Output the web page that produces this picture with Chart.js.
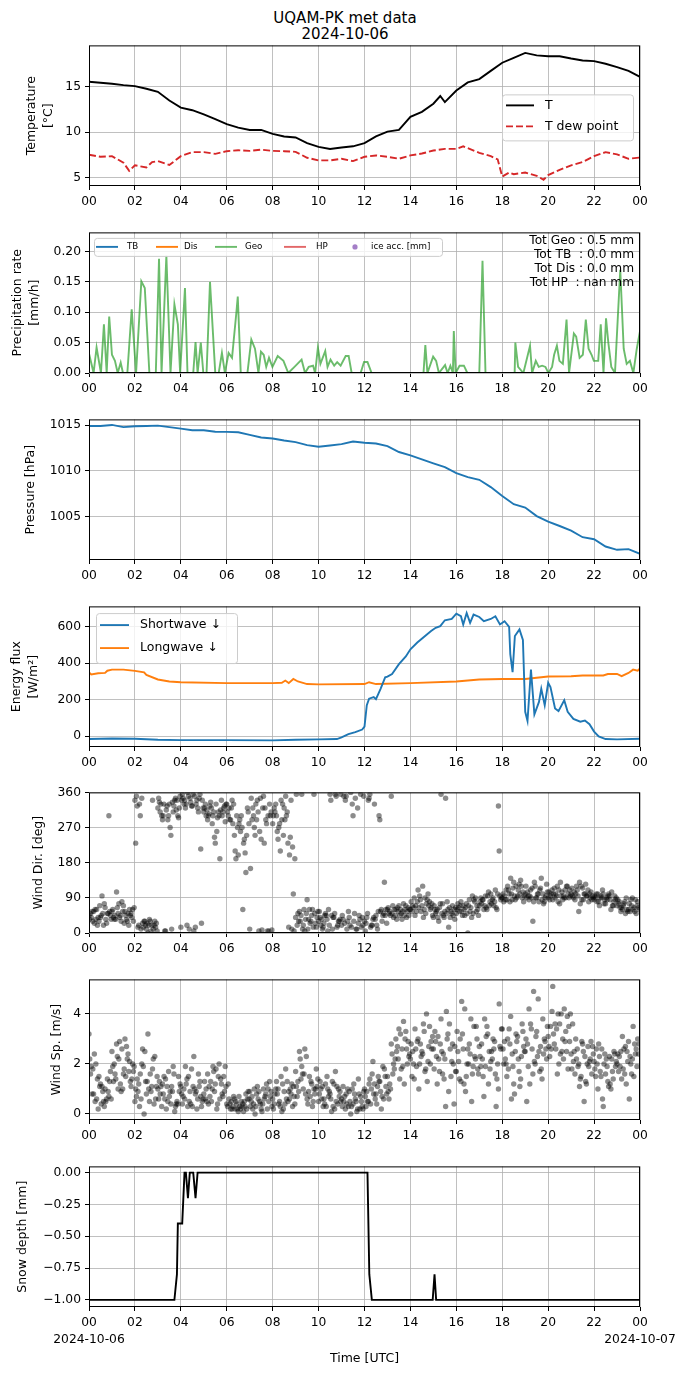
<!DOCTYPE html>
<html>
<head>
<meta charset="utf-8">
<script src="https://cdn.jsdelivr.net/npm/chart.js@4.4.1/dist/chart.umd.min.js"></script>
<style>
  body { margin: 0; background: #fff; width: 690px; height: 1377px; position: relative; overflow: hidden; font-family: 'DejaVu Sans', sans-serif; }
  canvas { position: absolute; left: 0; }
  #title { position: absolute; top: 10px; left: 0; width: 690px; text-align: center; font-size: 15px; line-height: 16px; color: #000; }
</style>
</head>
<body>
<div id="title">UQAM-PK met data<br>2024-10-06</div>
<canvas id="cTemp" width="690" height="178" style="top:34px"></canvas>
<canvas id="cPrecip" width="690" height="178" style="top:221px"></canvas>
<canvas id="cPres" width="690" height="178" style="top:408px"></canvas>
<canvas id="cFlux" width="690" height="178" style="top:595px"></canvas>
<canvas id="cDir" width="690" height="178" style="top:781px"></canvas>
<canvas id="cSpd" width="690" height="178" style="top:968px"></canvas>
<canvas id="cSnow" width="690" height="222" style="top:1155px"></canvas>
<script>
// ---- data (hours UTC on 2024-10-06) ----
const hourTicks = [0, 2, 4, 6, 8, 10, 12, 14, 16, 18, 20, 22, 24];
const hourLabels = ['00', '02', '04', '06', '08', '10', '12', '14', '16', '18', '20', '22', '00'];
const dateLabels = ['2024-10-06', '2024-10-07'];

const tempHours = [0,0.5,1,1.5,2,2.5,3,3.5,4,4.5,5,5.5,6,6.5,7,7.5,8,8.5,9,9.5,10,10.5,11,11.5,12,12.5,13,13.5,14,14.5,15,15.3,15.5,16,16.5,17,17.5,18,18.5,19,19.5,20,20.5,21,21.5,22,22.5,23,23.5,24];
const temp = [15.58,15.47,15.36,15.2,15.1,14.8,14.46,13.5,12.72,12.43,11.96,11.45,10.9,10.5,10.25,10.25,9.82,9.53,9.42,8.8,8.37,8.15,8.3,8.44,8.8,9.53,10.07,10.25,11.7,12.25,13.15,14.0,13.33,14.6,15.5,15.87,16.78,17.68,18.22,18.77,18.5,18.4,18.4,18.15,17.93,17.86,17.57,17.2,16.78,16.12];
const dewHours = [0,0.5,1,1.5,1.75,2,2.5,2.75,3,3.5,4,4.5,5,5.5,6,6.5,7,7.5,8,8.5,9,9.5,10,10.5,11,11.5,12,12.5,13,13.5,14,14.5,15,15.5,16,16.3,17,17.5,17.8,18,18.3,18.5,19,19.5,19.8,20,20.5,21,21.5,22,22.5,23,23.5,24];
const dewPoint = [7.5,7.28,7.35,6.63,5.72,6.34,6.1,6.7,6.8,6.37,7.35,7.8,7.8,7.6,7.9,8.0,7.93,8.07,7.93,7.9,7.83,7.17,6.88,6.88,7.06,6.8,7.28,7.43,7.28,7.06,7.43,7.64,7.97,8.15,8.15,8.44,7.72,7.35,7.0,5.1,5.54,5.36,5.54,5.18,4.74,5.25,5.83,6.34,6.7,7.35,7.79,7.54,7.06,7.2];
const tempTicks = [5, 10, 15];

const geoHours = [0,0.2,0.33,0.52,0.65,0.77,0.88,1.0,1.13,1.25,1.38,1.48,1.67,1.86,2.05,2.28,2.43,2.63,2.91,3.05,3.16,3.37,3.55,3.72,3.87,3.97,4.18,4.29,4.54,4.64,4.73,4.87,4.98,5.12,5.27,5.5,5.65,5.79,5.92,6.08,6.23,6.42,6.48,6.61,6.9,7.07,7.23,7.38,7.49,7.61,7.72,7.84,7.99,8.22,8.47,8.68,8.95,9.26,9.41,9.57,9.76,9.85,9.97,10.08,10.29,10.39,10.52,10.68,10.81,10.96,11.18,11.31,11.44,11.83,11.98,12.13,12.31,14.57,14.65,14.74,14.99,15.12,15.24,15.51,15.62,15.74,15.85,15.89,15.97,16.14,16.33,16.48,17.0,17.14,17.27,18.54,18.57,18.69,18.92,19.21,19.3,19.46,19.59,19.74,19.88,20.01,20.17,20.26,20.38,20.49,20.64,20.8,20.91,21.12,21.22,21.37,21.51,21.64,21.76,21.89,21.99,22.18,22.29,22.41,22.52,22.62,22.75,22.91,23.14,23.29,23.42,23.56,23.71,23.86,24.0];
const geoRate = [0.032,0,0.042,0,0.08,0,0.093,0.03,0.02,0,0.017,0,0,0.105,0,0.151,0.14,0,0,0.188,0,0.193,0,0.113,0.08,0,0.14,0,0,0.051,0,0.05,0,0,0.15,0,0,0.033,0,0.033,0.025,0.1,0.126,0,0,0.055,0.04,0,0.035,0.03,0.01,0.025,0.01,0.028,0.02,0,0.01,0.022,0,0.01,0.012,0,0.042,0.015,0.036,0.01,0.022,0.012,0.018,0.012,0.028,0.028,0,0,0.018,0.018,0,0,0.046,0,0.027,0.02,0,0.013,0,0.012,0,0.069,0,0.012,0.012,0,0,0.185,0,0,0.05,0.01,0,0.045,0,0.02,0.01,0.012,0.01,0,0.01,0.03,0.045,0.02,0.015,0.088,0,0.065,0.06,0.025,0.03,0.088,0.04,0.03,0.02,0.02,0.08,0,0.09,0.05,0.01,0,0.17,0.04,0.015,0.02,0,0.04,0.069];
const zeroHours = [0, 24];
const zeroRate = [0, 0];
const precipTicks = [0, 0.05, 0.1, 0.15, 0.2];
const precipTotals = ['Tot Geo : 0.5 mm', 'Tot TB  : 0.0 mm', 'Tot Dis : 0.0 mm', 'Tot HP  : nan mm'];

const halfHours = [0,0.5,1,1.5,2,2.5,3,3.5,4,4.5,5,5.5,6,6.5,7,7.5,8,8.5,9,9.5,10,10.5,11,11.5,12,12.5,13,13.5,14,14.5,15,15.5,16,16.5,17,17.5,18,18.5,19,19.5,20,20.5,21,21.5,22,22.5,23,23.5,24];
const pressure = [1014.93,1014.93,1015.04,1014.8,1014.9,1014.93,1014.96,1014.8,1014.64,1014.46,1014.46,1014.3,1014.28,1014.24,1013.95,1013.66,1013.55,1013.33,1013.15,1012.83,1012.64,1012.79,1012.93,1013.22,1013.08,1013.0,1012.72,1012.07,1011.7,1011.27,1010.83,1010.4,1009.75,1009.31,1009.02,1008.22,1007.25,1006.34,1005.98,1005.04,1004.42,1003.95,1003.44,1002.72,1002.5,1001.7,1001.34,1001.41,1000.9];
const pressureTicks = [1005, 1010, 1015];

const swHours = [0,1,2,3,4,6,8,9,10,10.8,11,11.3,11.6,11.9,12,12.1,12.2,12.4,12.5,12.7,12.9,13,13.2,13.5,13.8,14,14.3,14.6,14.9,15.1,15.3,15.5,15.8,16,16.2,16.3,16.45,16.6,16.75,17,17.2,17.5,17.7,17.9,18.1,18.3,18.35,18.45,18.55,18.75,18.9,19,19.1,19.25,19.4,19.6,19.7,19.85,20,20.1,20.3,20.45,20.7,20.85,21.1,21.4,21.6,21.8,22,22.2,22.5,23,24];
const shortwave = [-16,-13,-14,-20,-22,-22,-23,-20,-18,-16,-7,11,22,36,52,169,205,214,202,259,322,326,340,394,436,475,512,544,575,593,602,634,641,670,656,611,674,620,665,652,629,641,656,611,629,598,449,350,548,584,526,133,83,364,119,187,259,169,292,268,151,137,196,133,94,79,85,65,25,-2,-16,-18,-14];
const lwHours = [0,0.1,0.4,0.7,0.8,1,1.5,2,2.4,2.5,3,3.5,4,6,8,8.4,8.55,8.7,8.9,9.1,9.5,10,12,12.2,12.5,14,16,17,18,19,20,21,21.5,22.4,22.6,23,23.2,23.5,23.7,23.9,24];
const longwave = [349,337,344,346,358,364,364,357,349,335,310,299,295,290,290,292,304,290,313,299,285,283,285,295,285,290,299,310,313,313,326,328,332,332,340,340,328,346,364,358,371];
const fluxTicks = [0, 200, 400, 600];

// wind: five interleaved sample sets, 6 readings per hour each (one row per hour)
const windDirA = [
  45,30,60,40,75,50, 55,35,40,70,30,50, 340,20,25,10,30,20, 320,300,5,330,310,340,
  15,340,350,325,330,355, 310,290,320,230,300,310, 330,290,250,200,270,155, 10,300,340,240,320,5,
  280,300,210,320,230,10, 40,55,20,85,30,50, 30,10,45,355,40,20, 20,340,40,300,10,355,
  30,340,20,45,290,50, 60,350,45,70,55,40, 60,90,110,70,50,80, 40,60,355,55,15,70,
  50,70,60,0,40,90, 70,85,60,100,80,325, 90,110,80,130,95,120, 100,85,30,90,115,80,
  90,110,100,75,95,120, 100,85,55,115,95,90, 85,100,90,75,95,70, 70,55,80,60,90,50];
const windDirB = [
  35,55,20,45,65,300, 60,105,45,25,50,40, 230,330,15,25,5,30, 345,290,315,270,325,300,
  340,320,10,355,340,215, 320,300,280,330,190,320, 310,320,210,280,60,250, 165,270,310,8,290,330,
  300,260,340,290,15,220, 355,30,60,10,45,25, 55,15,35,340,50,30, 45,350,20,30,320,15,
  5,345,35,20,55,130, 65,50,60,45,75,55, 80,45,65,120,75,60, 70,40,50,345,65,45,
  60,80,45,70,95,55, 80,60,95,75,110,210, 100,85,140,95,110,90, 120,95,80,100,140,90,
  105,85,95,130,90,100, 115,100,130,85,95,105, 95,80,110,90,85,80, 85,65,50,75,60,70];
const windDirC = [
  50,25,40,95,35,55, 40,65,30,55,20,60, 350,300,30,0,20,15, 335,300,325,250,340,295,
  355,330,345,5,320,25, 330,305,300,260,315,325, 300,340,190,290,230,320, 345,250,5,320,280,300,
  320,240,290,350,200,100, 20,45,5,35,60,15, 40,25,5,45,355,30, 35,10,360,50,25,40,
  25,355,40,10,60,45, 50,70,35,60,45,65, 55,70,95,40,85,65, 60,30,75,50,40,60,
  75,55,65,85,50,70, 90,70,105,85,65,95, 80,120,100,85,125,105, 90,110,130,100,85,95,
  85,100,120,95,110,90, 95,120,75,100,110,85, 90,70,100,85,60,95, 75,60,90,55,65,80];
const windDirD = [
  40,60,30,50,25,45, 35,50,80,45,60,30, 325,10,30,20,340,25, 310,330,290,10,345,320,
  345,20,335,350,310,340, 300,325,310,295,340,285, 320,280,300,260,240,310, 290,330,260,350,5,310,
  310,270,330,300,245,5, 50,355,35,60,15,40, 20,45,60,10,350,35, 350,30,15,345,45,20,
  40,15,330,55,30,60, 55,40,65,50,60,45, 70,55,85,60,100,75, 50,65,45,80,55,35,
  65,45,75,55,85,60, 75,95,70,90,60,85, 95,110,85,120,100,80, 105,90,120,80,100,125,
  95,115,80,105,90,110, 90,110,120,100,80,95, 100,90,75,95,105,85, 80,70,60,85,55,65];
const windDirE = [
  55,35,70,20,50,35, 45,75,55,35,45,65, 15,345,20,35,10,5, 330,5,300,335,315,350,
  330,360,325,15,345,320, 315,335,245,310,300,330, 290,330,270,300,205,280, 320,290,345,230,300,8,
  330,280,250,310,340,190, 30,10,50,25,355,55, 35,50,20,40,15,355, 25,55,330,10,35,350,
  50,20,35,300,45,25, 45,60,55,35,70,60, 65,80,55,90,70,45, 55,75,40,60,50,65,
  55,70,50,65,80,45, 85,65,80,70,100,90, 85,100,115,90,135,95, 95,115,90,110,75,105,
  100,90,110,85,120,95, 105,95,85,125,100,90, 80,95,85,100,70,90, 65,75,55,70,85,60];
const windDirTicks = [0, 90, 180, 270, 360];

const windSpA = [
  3.2,1.8,0.6,1.2,0.3,0.9, 2.5,1.4,2.9,1.6,2.2,1.1, 0.5,1.2,2.6,0.8,1.6,0.4, 1.0,0.3,1.4,0.7,1.9,0.5,
  1.1,0.6,1.5,0.3,0.9,1.3, 0.8,1.6,0.5,1.2,2.0,0.7, 0.4,0.2,0.6,0.1,0.3,0.8, 0.9,0.4,1.1,0.2,0.7,0.5,
  0.6,1.3,0.3,0.9,0.5,1.2, 1.7,2.5,1.0,0.6,1.3,0.8, 0.5,1.1,0.3,0.8,1.2,0.4, 0.6,0.2,0.9,0.4,0.1,0.7,
  1.0,0.5,1.6,0.8,1.3,0.6, 1.5,2.8,2.2,3.4,1.9,2.6, 2.2,1.4,3.0,2.5,1.8,3.5, 2.6,1.2,3.8,2.2,0.9,2.8,
  1.7,3.0,1.2,2.6,0.5,2.2, 2.7,1.5,3.5,2.1,2.9,1.0, 3.4,2.0,2.8,1.2,3.1,2.3, 2.5,4.2,1.6,3.3,2.7,3.0,
  3.1,4.1,2.6,3.6,2.2,3.9, 2.4,1.6,2.0,2.8,1.2,2.2, 2.1,1.0,2.6,1.6,2.3,1.4, 2.0,2.5,1.6,2.9,2.2,2.6];
const windSpB = [
  2.2,0.8,1.4,0.4,1.0,0.7, 1.9,2.8,1.2,1.8,2.4,1.4, 1.0,0.3,1.9,1.3,0.9,2.3, 0.6,1.2,0.2,0.9,1.6,0.4,
  0.8,1.9,0.5,1.1,0.2,0.7, 1.3,0.4,1.0,1.8,0.6,1.5, 0.3,0.5,0.2,0.7,0.4,0.2, 0.3,1.0,0.6,0.1,0.8,1.3,
  0.2,0.8,1.5,0.4,0.9,0.3, 1.1,2.2,1.6,0.4,1.2,1.0, 0.8,0.3,1.5,0.6,0.2,1.0, 0.3,0.8,0.5,1.2,0.2,0.5,
  0.7,1.2,2.1,0.4,0.9,1.8, 0.9,2.4,3.0,1.4,3.7,2.0, 2.8,3.4,1.0,2.4,4.0,2.0, 1.8,3.1,2.5,0.3,3.6,2.0,
  3.3,1.3,4.2,2.0,1.6,3.5, 2.3,0.7,3.2,2.5,1.6,4.4, 2.6,1.5,3.9,0.8,2.2,3.6, 3.0,1.2,4.9,2.3,1.8,2.9,
  2.7,5.1,3.4,2.4,4.2,1.8, 1.8,3.0,1.1,2.5,2.0,2.9, 1.8,2.8,0.6,2.2,1.2,2.5, 2.4,1.4,2.7,0.6,3.5,1.9];
const windSpC = [
  1.6,2.4,0.2,1.1,0.5,1.3, 1.3,2.3,0.9,3.0,1.7,2.0, 0.7,1.6,0.0,3.2,1.1,0.6, 1.3,0.8,1.1,0.4,0.1,1.5,
  0.4,1.2,0.9,2.3,0.6,0.3, 0.6,1.1,1.9,0.2,1.4,0.9, 1.2,0.2,0.5,0.3,0.1,0.6, 0.5,0.0,0.9,0.4,1.2,0.7,
  0.4,1.0,0.1,1.8,0.6,1.1, 0.7,1.4,2.6,0.9,0.3,1.8, 1.3,0.6,1.0,0.1,1.7,0.7, 1.1,0.4,0.0,0.8,1.4,0.3,
  0.3,1.4,0.8,1.1,0.2,1.5, 0.6,1.6,2.5,3.2,1.2,2.9, 1.5,2.6,2.0,3.6,1.3,2.9, 3.3,2.2,1.6,4.1,2.6,0.4,
  2.5,4.5,0.9,2.8,1.9,3.0, 1.9,3.8,1.2,2.2,0.3,2.7, 2.0,3.0,0.6,2.5,1.7,3.3, 0.5,3.6,2.1,4.6,1.4,2.6,
  2.3,3.2,1.6,4.0,2.9,3.5, 3.6,2.2,1.4,0.5,2.7,1.6, 1.5,2.3,0.3,1.9,1.0,2.4, 1.7,3.1,1.2,2.3,1.5,3.0];
const windSpD = [
  1.9,0.5,1.5,0.9,0.6,1.7, 2.0,1.0,2.6,1.5,2.1,1.7, 1.4,0.6,2.5,1.0,1.8,1.1, 0.8,1.5,0.5,1.1,0.3,0.9,
  0.7,1.4,0.4,1.0,1.6,0.5, 1.0,0.7,1.7,0.4,1.2,1.9, 0.6,0.3,0.4,0.2,0.5,0.9, 0.7,0.3,0.5,1.0,0.2,0.9,
  0.8,0.4,1.2,0.6,1.0,0.7, 1.3,1.9,0.8,1.5,0.5,1.1, 1.0,0.4,0.7,1.3,0.5,0.9, 0.5,1.0,0.3,0.6,0.8,0.2,
  0.9,0.4,1.2,1.5,0.7,1.1, 1.2,2.0,2.7,1.8,3.0,2.3, 2.5,1.9,2.8,3.3,2.1,2.6, 2.9,1.7,2.4,3.0,1.5,2.7,
  2.1,3.2,1.5,2.4,3.5,1.8, 2.8,1.9,2.5,3.0,1.4,2.6, 2.9,1.8,2.4,3.2,1.1,2.7, 2.8,3.4,2.0,2.5,3.8,2.2,
  3.5,2.8,4.0,2.5,3.3,2.9, 2.1,2.6,1.5,2.3,1.9,2.7, 2.6,1.7,2.0,1.3,2.2,1.9, 2.3,1.8,2.5,2.0,2.8,2.4];
const windSpE = [
  0.8,2.0,1.1,0.5,1.4,0.6, 1.6,2.2,1.0,2.7,1.3,1.9, 0.9,2.0,1.3,0.5,2.2,1.5, 1.1,0.6,1.7,0.9,0.4,1.2,
  1.0,0.3,1.8,0.8,1.1,0.6, 0.5,1.3,0.9,1.5,0.8,1.1, 0.4,0.7,0.2,0.5,0.3,0.6, 0.2,0.8,0.4,0.6,1.0,0.3,
  1.0,0.5,0.2,1.3,0.8,0.4, 0.9,1.6,2.3,0.7,1.0,1.4, 0.6,1.2,0.9,0.3,1.1,0.5, 0.7,0.3,1.0,0.5,0.2,0.9,
  0.5,1.0,0.6,1.3,1.9,0.8, 1.0,1.8,2.2,2.6,3.3,2.4, 2.0,2.9,2.3,1.7,2.7,3.1, 2.3,2.8,1.4,3.2,2.1,1.7,
  1.4,2.6,2.0,3.8,2.3,1.6, 2.2,3.1,1.8,2.6,2.0,3.4, 2.2,3.4,1.9,2.9,1.4,2.5, 1.9,2.6,3.1,1.7,2.4,3.5,
  2.6,3.6,2.0,3.0,2.5,4.0, 2.5,1.9,2.9,1.3,2.1,2.4, 2.0,1.5,2.4,1.1,1.7,2.1, 1.9,2.6,2.1,1.6,2.4,2.8];
const windSpTicks = [0, 2, 4];

const snowHours = [0,3.72,3.83,3.87,4.06,4.16,4.22,4.31,4.39,4.54,4.64,4.73,12.13,12.21,12.32,14.97,15.05,15.12,24];
const snowDepth = [-1,-1,-0.8,-0.4,-0.4,0,0,-0.2,0,0,-0.2,0,0,-0.8,-1,-1,-0.8,-1,-1];
const snowTicks = [-1, -0.75, -0.5, -0.25, 0];

// ---- helpers ----
const GRID = '#b0b0b0';
Chart.defaults.font.family = "'DejaVu Sans', sans-serif";
Chart.defaults.color = '#000';

const xy = (xs, ys) => xs.map((x, i) => ({x: x, y: ys[i]}));
// sample k of 5 within each 10-minute slot
const slots = (vals, k) => vals.map((v, i) => ({x: (i * 5 + k) / 30, y: v}));

const lineSet = (data, color, extra) => Object.assign({
  data: data, borderColor: color, borderWidth: 1.9, pointRadius: 0, tension: 0, fill: false, clip: 0
}, extra || {});
const dotSet = data => ({
  data: data, backgroundColor: 'rgba(0,0,0,0.45)', borderWidth: 0, pointRadius: 2.7, clip: 0
});

const framePlugin = {
  id: 'frame',
  afterDatasetsDraw(chart) {
    const {ctx, chartArea: a} = chart;
    ctx.save();
    ctx.strokeStyle = '#000';
    ctx.lineWidth = 1;
    ctx.strokeRect(a.left + 0.5, a.top + 0.5, a.right - a.left - 1, a.bottom - a.top - 1);
    ctx.restore();
  }
};

function boxLegend(spec) {
  return {
    id: 'boxLegend',
    afterDraw(chart) {
      const {ctx, chartArea: a} = chart;
      const bx = a.left + spec.x, by = a.top + spec.y;
      ctx.save();
      ctx.beginPath();
      ctx.roundRect(bx + 0.5, by + 0.5, spec.w, spec.h, 3);
      ctx.fillStyle = 'rgba(255,255,255,0.8)';
      ctx.fill();
      ctx.strokeStyle = '#cccccc';
      ctx.lineWidth = 1;
      ctx.stroke();
      ctx.font = spec.font;
      ctx.textBaseline = 'middle';
      spec.items.forEach(it => {
        const y = by + it.y;
        if (it.dot) {
          ctx.beginPath();
          ctx.arc(bx + it.x0, y, 2.6, 0, Math.PI * 2);
          ctx.fillStyle = it.color;
          ctx.fill();
        } else {
          ctx.beginPath();
          ctx.setLineDash(it.dash || []);
          ctx.moveTo(bx + it.x0, y);
          ctx.lineTo(bx + it.x1, y);
          ctx.strokeStyle = it.color;
          ctx.lineWidth = 1.9;
          ctx.stroke();
          ctx.setLineDash([]);
        }
        ctx.fillStyle = '#000';
        ctx.fillText(it.text, bx + it.tx, y);
      });
      ctx.restore();
    }
  };
}

function cornerText(lines) {
  return {
    id: 'cornerText',
    afterDraw(chart) {
      const {ctx, chartArea: a} = chart;
      ctx.save();
      ctx.font = "12.2px 'DejaVu Sans'";
      ctx.fillStyle = '#000';
      ctx.textAlign = 'right';
      ctx.textBaseline = 'middle';
      lines.forEach((t, i) => ctx.fillText(t, a.right - 6, a.top + 8 + i * 14.1));
      ctx.restore();
    }
  };
}

function panelOptions(o) {
  const axisGrid = {color: GRID, lineWidth: 0.8, tickColor: '#000', tickLength: 4, tickWidth: 1};
  return {
    responsive: false,
    animation: false,
    events: [],
    layout: {padding: {top: 10, right: 50, left: 0, bottom: 0}},
    plugins: {legend: {display: false}, tooltip: {enabled: false}},
    scales: {
      x: {
        type: 'linear', min: 0, max: 24,
        afterBuildTicks: s => { s.ticks = hourTicks.map(v => ({value: v})); },
        afterFit: s => { s.height = o.xHeight || 26; },
        grid: axisGrid,
        border: {display: false},
        ticks: {
          color: '#000', font: {size: 12.3, lineHeight: o.xLineHeight || 1.2}, padding: o.xPad || 4,
          maxRotation: 0, autoSkip: false,
          callback: o.xLabel || ((v, i) => hourLabels[i])
        },
        title: o.xTitle || {display: false}
      },
      y: {
        type: 'linear', min: o.yMin, max: o.yMax,
        afterBuildTicks: s => { s.ticks = o.yTicks.map(v => ({value: v})); },
        afterFit: s => { s.width = 89; },
        grid: axisGrid,
        border: {display: false},
        ticks: {color: '#000', font: {size: 12.3}, padding: 4, callback: o.yLabel || (v => String(v))},
        title: {
          display: true, text: o.yTitle, color: '#000',
          font: {size: 12.5, lineHeight: 1.35},
          padding: {top: o.yTitlePad, bottom: 0}
        }
      }
    }
  };
}

// ---- 1. temperature ----
new Chart(document.getElementById('cTemp'), {
  type: 'line',
  data: {datasets: [
    lineSet(xy(tempHours, temp), '#000000'),
    lineSet(xy(dewHours, dewPoint), '#d62728', {borderDash: [7, 3]})
  ]},
  options: panelOptions({yMin: 4.05, yMax: 19.6, yTicks: tempTicks, yTitle: ['Temperature', '[°C]'], yTitlePad: 23}),
  plugins: [framePlugin, boxLegend({
    x: 413, y: 49, w: 131, h: 46, font: "12.5px 'DejaVu Sans'",
    items: [
      {x0: 4, x1: 32, tx: 43, y: 11, color: '#000000', text: 'T'},
      {x0: 4, x1: 32, tx: 43, y: 32, color: '#d62728', dash: [7, 3], text: 'T dew point'}
    ]
  })]
});

// ---- 2. precipitation ----
new Chart(document.getElementById('cPrecip'), {
  type: 'line',
  data: {datasets: [
    lineSet(xy(zeroHours, zeroRate), '#1f77b4'),
    lineSet(xy(zeroHours, zeroRate), '#ff7f0e'),
    lineSet(xy(geoHours, geoRate), 'rgba(44,160,44,0.7)'),
    lineSet(xy(zeroHours, zeroRate), 'rgba(214,39,40,0.75)')
  ]},
  options: panelOptions({yMin: 0, yMax: 0.2316, yTicks: precipTicks, yLabel: v => v.toFixed(2),
    yTitle: ['Precipitation rate', '[mm/h]'], yTitlePad: 9.5}),
  plugins: [framePlugin, boxLegend({
    x: 5, y: 5.5, w: 348, h: 18, font: "8.7px 'DejaVu Sans'",
    items: [
      {x0: 2, x1: 24, tx: 33, y: 9, color: '#1f77b4', text: 'TB'},
      {x0: 62, x1: 84, tx: 90, y: 9, color: '#ff7f0e', text: 'Dis'},
      {x0: 121, x1: 143, tx: 151, y: 9, color: 'rgba(44,160,44,0.7)', text: 'Geo'},
      {x0: 190, x1: 212, tx: 222, y: 9, color: 'rgba(214,39,40,0.7)', text: 'HP'},
      {dot: true, x0: 261, tx: 277, y: 9, color: 'rgba(148,103,189,0.85)', text: 'ice acc. [mm]'}
    ]
  }), cornerText(precipTotals)]
});

// ---- 3. pressure ----
new Chart(document.getElementById('cPres'), {
  type: 'line',
  data: {datasets: [lineSet(xy(halfHours, pressure), '#1f77b4')]},
  options: panelOptions({yMin: 1000.22, yMax: 1015.65, yTicks: pressureTicks, yTitle: 'Pressure [hPa]', yTitlePad: 22.5}),
  plugins: [framePlugin]
});

// ---- 4. energy flux ----
new Chart(document.getElementById('cFlux'), {
  type: 'line',
  data: {datasets: [
    lineSet(xy(swHours, shortwave), '#1f77b4'),
    lineSet(xy(lwHours, longwave), '#ff7f0e')
  ]},
  options: panelOptions({yMin: -59.5, yMax: 710, yTicks: fluxTicks, yTitle: ['Energy flux', '[W/m²]'], yTitlePad: 8}),
  plugins: [framePlugin, boxLegend({
    x: 7, y: 6.7, w: 141, h: 50, font: "12.5px 'DejaVu Sans'",
    items: [
      {x0: 4, x1: 33, tx: 44, y: 12, color: '#1f77b4', text: 'Shortwave ↓'},
      {x0: 4, x1: 33, tx: 44, y: 35, color: '#ff7f0e', text: 'Longwave ↓'}
    ]
  })]
});

// ---- 5. wind direction ----
new Chart(document.getElementById('cDir'), {
  type: 'scatter',
  data: {datasets: [windDirA, windDirB, windDirC, windDirD, windDirE].map((s, k) => dotSet(slots(s, k)))},
  options: panelOptions({yMin: 0, yMax: 360, yTicks: windDirTicks, yTitle: 'Wind Dir. [deg]', yTitlePad: 30.5}),
  plugins: [framePlugin]
});

// ---- 6. wind speed ----
new Chart(document.getElementById('cSpd'), {
  type: 'scatter',
  data: {datasets: [windSpA, windSpB, windSpC, windSpD, windSpE].map((s, k) => dotSet(slots(s, k)))},
  options: panelOptions({yMin: -0.24, yMax: 5.38, yTicks: windSpTicks, yTitle: 'Wind Sp. [m/s]', yTitlePad: 48.5}),
  plugins: [framePlugin]
});

// ---- 7. snow depth ----
const last = hourLabels.length - 1;
new Chart(document.getElementById('cSnow'), {
  type: 'line',
  data: {datasets: [lineSet(xy(snowHours, snowDepth), '#000000')]},
  options: panelOptions({
    yMin: -1.056, yMax: 0.049, yTicks: snowTicks,
    yLabel: v => (v < 0 ? '\u2212' : '') + Math.abs(v).toFixed(2),
    yTitle: 'Snow depth [mm]', yTitlePad: 14,
    xHeight: 70, xLineHeight: 1.4, xPad: 3,
    xLabel: (v, i) => i === 0 ? [hourLabels[i], dateLabels[0]] : (i === last ? [hourLabels[i], dateLabels[1]] : hourLabels[i]),
    xTitle: {display: true, text: 'Time [UTC]', color: '#000', font: {size: 12.5, lineHeight: 1.35}, padding: {top: 0, bottom: 9.5}}
  }),
  plugins: [framePlugin]
});
</script>
</body>
</html>
